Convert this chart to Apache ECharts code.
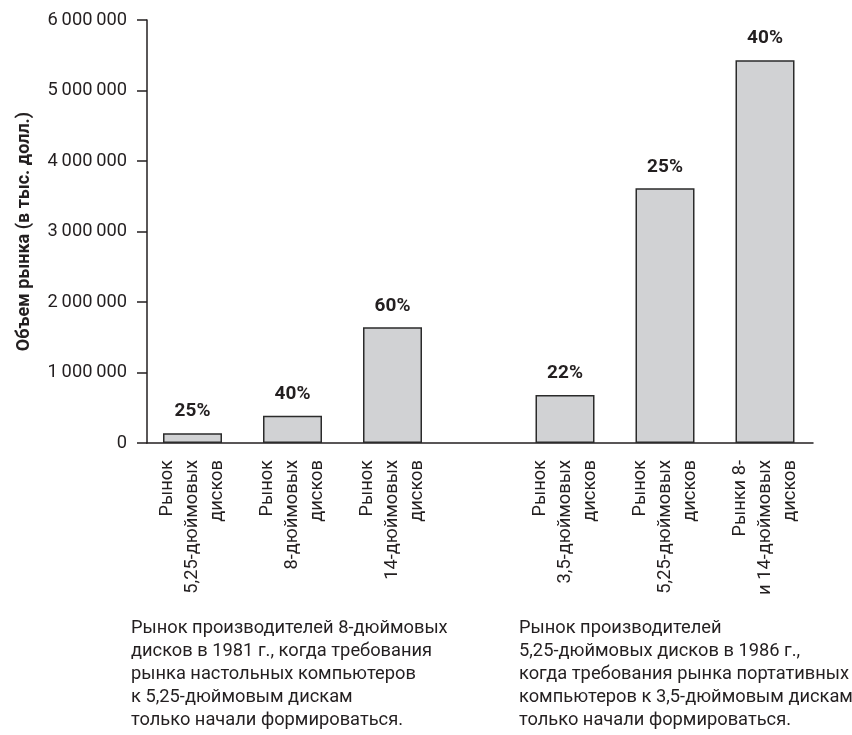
<!DOCTYPE html>
<html>
<head>
<meta charset="utf-8">
<script src="https://cdn.jsdelivr.net/npm/echarts@6/dist/echarts.min.js"></script>
<style>
  html, body { margin: 0; padding: 0; background: #ffffff; }
  #chart { width: 852px; height: 735px; }
</style>
</head>
<body>
<div id="chart"></div>
<script>
// Disk-drive market sizes, 1981 vs 1986 (thousand dollars)
const leftCategories = ['Рынок\n5,25-дюймовых\nдисков', 'Рынок\n8-дюймовых\nдисков', 'Рынок\n14-дюймовых\nдисков'];
const leftValues = [140000, 387000, 1641000];
const leftShares = ['25%', '40%', '60%'];

const rightCategories = ['Рынок\n3,5-дюймовых\nдисков', 'Рынок\n5,25-дюймовых\nдисков', 'Рынки 8-\nи 14-дюймовых\nдисков'];
const rightValues = [680000, 3613000, 5430000];
const rightShares = ['22%', '25%', '40%'];

const yTickValues = [0, 1000000, 2000000, 3000000, 4000000, 5000000, 6000000];

const yAxisTitle = 'Объем рынка (в тыс. долл.)';
const leftNote = 'Рынок производителей 8-дюймовых\nдисков в 1981 г., когда требования\nрынка настольных компьютеров\nк 5,25-дюймовым дискам\nтолько начали формироваться.';
const rightNote = 'Рынок производителей\n5,25-дюймовых дисков в 1986 г.,\nкогда требования рынка портативных\nкомпьютеров к 3,5-дюймовым дискам\nтолько начали формироваться.';

const FONT = 'Roboto, "DejaVu Sans Condensed", sans-serif';
const INK = '#231f20';
const TEXT_SIZE = 18.3;

function fmtTick(v) {
  return String(v).replace(/\B(?=(\d{3})+(?!\d))/g, '\u2009');
}

const chart = echarts.init(document.getElementById('chart'), null, { renderer: 'canvas' });

const barStyle = { color: '#d1d2d4', borderColor: '#2b2b2b', borderWidth: 1.5 };
const catAxisBase = {
  type: 'category',
  boundaryGap: true,
  axisLine: { show: false },
  axisTick: { show: false },
  axisLabel: {
    interval: 0, rotate: 90, margin: 17,
    fontFamily: FONT, fontSize: TEXT_SIZE, lineHeight: 25, color: INK
  }
};
const shareLabel = shares => ({
  show: true, position: 'top', distance: 12,
  fontFamily: FONT, fontSize: 19, fontWeight: 'bold', color: INK,
  formatter: p => shares[p.dataIndex]
});

chart.setOption({
  animation: false,
  backgroundColor: '#ffffff',
  grid: [
    // 1981 group
    { left: 142.5, top: 20, width: 300, bottom: 292 },
    // 1986 group
    { left: 515, top: 20, width: 300, bottom: 292 },
    // shared baseline across both groups
    { left: 147, right: 39, top: 20, bottom: 292 }
  ],
  xAxis: [
    Object.assign({}, catAxisBase, { gridIndex: 0, data: leftCategories }),
    Object.assign({}, catAxisBase, { gridIndex: 1, data: rightCategories }),
    {
      type: 'value', gridIndex: 2, min: 0, max: 1,
      axisLine: { show: true, onZero: false, lineStyle: { color: INK, width: 1.5 } },
      axisTick: { show: false }, axisLabel: { show: false }, splitLine: { show: false }
    }
  ],
  yAxis: [
    {
      type: 'value', gridIndex: 0, min: yTickValues[0], max: yTickValues[yTickValues.length - 1],
      interval: yTickValues[1] - yTickValues[0],
      offset: -4.5,
      name: yAxisTitle, nameLocation: 'middle', nameGap: 114, nameRotate: 90,
      nameTextStyle: { fontFamily: FONT, fontSize: 18, fontWeight: 'bold', color: INK },
      axisLine: { show: true, lineStyle: { color: INK, width: 1.5 } },
      axisTick: { show: true, length: 10, lineStyle: { color: INK, width: 1.5 } },
      axisLabel: { margin: 20, fontFamily: FONT, fontSize: TEXT_SIZE, color: INK, formatter: fmtTick },
      splitLine: { show: false }
    },
    {
      type: 'value', gridIndex: 1, min: yTickValues[0], max: yTickValues[yTickValues.length - 1],
      show: false, splitLine: { show: false }
    },
    { type: 'value', gridIndex: 2, show: false, splitLine: { show: false } }
  ],
  series: [
    {
      type: 'bar', xAxisIndex: 0, yAxisIndex: 0, barWidth: 59,
      data: leftValues, itemStyle: barStyle, label: shareLabel(leftShares)
    },
    {
      type: 'bar', xAxisIndex: 1, yAxisIndex: 1, barWidth: 59,
      data: rightValues, itemStyle: barStyle, label: shareLabel(rightShares)
    }
  ],
  graphic: [
    { type: 'text', left: 131, top: 617,
      style: { text: leftNote, font: TEXT_SIZE + 'px ' + FONT, lineHeight: 23, fill: INK } },
    { type: 'text', left: 519, top: 617,
      style: { text: rightNote, font: TEXT_SIZE + 'px ' + FONT, lineHeight: 23, fill: INK } }
  ]
});
</script>
</body>
</html>
